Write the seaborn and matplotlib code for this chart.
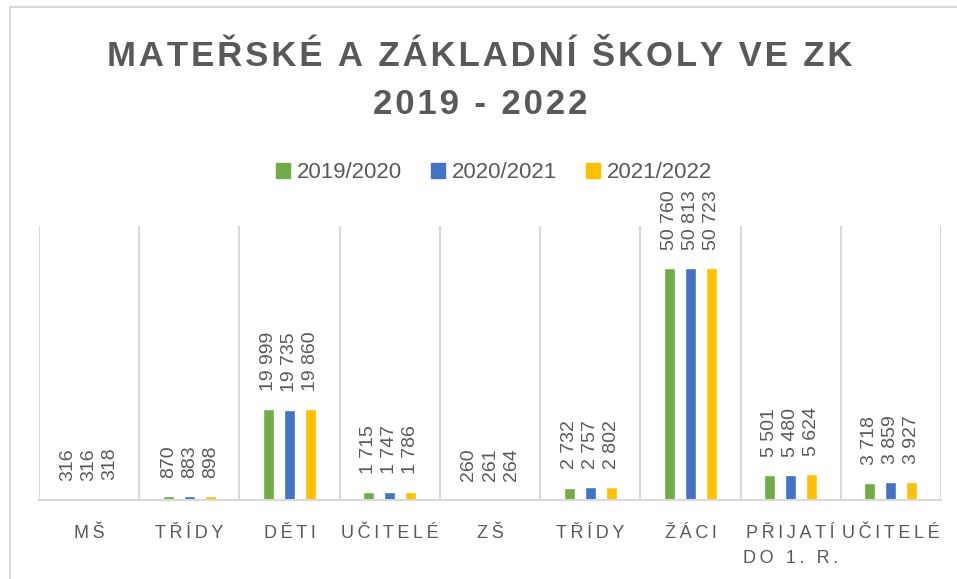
import pandas as pd
import matplotlib.pyplot as plt
from matplotlib.lines import Line2D
import seaborn as sns

# Data z grafu
kategorie = ['MŠ', 'TŘÍDY', 'DĚTI', 'UČITELÉ', 'ZŠ', 'TŘÍDY', 'ŽÁCI', 'PŘIJATÍ\nDO 1. R.', 'UČITELÉ']
roky = ['2019/2020', '2020/2021', '2021/2022']
hodnoty_2019 = [316, 870, 19999, 1715, 260, 2732, 50760, 5501, 3718]
hodnoty_2020 = [316, 883, 19735, 1747, 261, 2757, 50813, 5480, 3859]
hodnoty_2021 = [318, 898, 19860, 1786, 264, 2802, 50723, 5624, 3927]
barvy = ['#70AD47', '#4472C4', '#FFC000']

seda = '#595959'
mrizka = '#D9D9D9'

# Dlouhý formát pro seaborn
rows = []
for rok, hodnoty in zip(roky, [hodnoty_2019, hodnoty_2020, hodnoty_2021]):
    for i, v in enumerate(hodnoty):
        rows.append({'idx': i, 'rok': rok, 'hodnota': v})
df = pd.DataFrame(rows)


def prolozit(text, mezera='\u200a'):
    # napodobení prostrkovaného písma z Excelu
    return '\n'.join(mezera.join(list(radek)) for radek in text.split('\n'))


def cislo(v):
    return f'{v:,}'.replace(',', ' ')


sns.set_style('white')
plt.rcParams['font.family'] = ['Liberation Sans', 'DejaVu Sans']

fig = plt.figure(figsize=(9.57, 5.79), dpi=100)
ax = fig.add_axes([39 / 957, 79 / 579, 902 / 957, 274 / 579])

sns.barplot(data=df, x='idx', y='hodnota', hue='rok', hue_order=roky,
            palette=barvy, width=0.63, gap=0.48, saturation=1, ax=ax,
            legend=False, errorbar=None)

ax.set_ylim(0, 60000)
ax.set_xlim(-0.5, len(kategorie) - 0.5)

# popisky hodnot
for cont, hodnoty in zip(ax.containers, [hodnoty_2019, hodnoty_2020, hodnoty_2021]):
    ax.bar_label(cont, labels=[cislo(v) for v in hodnoty], rotation=90,
                 padding=13, color=seda, fontsize=14)

# svislé oddělovače kategorií
for x in range(len(kategorie) + 1):
    ax.axvline(x - 0.5, color=mrizka, lw=1.5, zorder=0)

for s in ['top', 'right', 'left']:
    ax.spines[s].set_visible(False)
ax.spines['bottom'].set_color(mrizka)
ax.spines['bottom'].set_linewidth(1.5)
ax.set_yticks([])
ax.set_xticks(range(len(kategorie)))
ax.set_xticklabels([prolozit(k, '\u2009') for k in kategorie], color=seda, fontsize=13,
                   linespacing=1.6)
ax.tick_params(axis='x', length=0, pad=18)
ax.set_xlabel('')
ax.set_ylabel('')

# legenda
handles = [plt.Rectangle((0, 0), 1, 1, color=c) for c in barvy]
fig.legend(handles, roky, loc='center', bbox_to_anchor=(494 / 957, 1 - 173 / 579),
           ncol=3, frameon=False, fontsize=16, labelcolor=seda,
           handlelength=0.65, handleheight=0.65, handletextpad=0.3, columnspacing=1.3)

# nadpis
for radek, y in [('MATEŘSKÉ A ZÁKLADNÍ ŠKOLY VE ZK', 57), ('2019 - 2022', 105)]:
    fig.text(480 / 957, 1 - y / 579, prolozit(radek),
             ha='center', va='center', fontsize=25, fontweight='bold', color=seda)

# rámeček grafu
fig.add_artist(Line2D([9.5 / 957, 1], [1 - 7 / 579] * 2, color=mrizka, lw=1.5))
fig.add_artist(Line2D([9.5 / 957] * 2, [0, 1 - 7 / 579], color=mrizka, lw=1.5))

fig.savefig('out.png', dpi=100)
